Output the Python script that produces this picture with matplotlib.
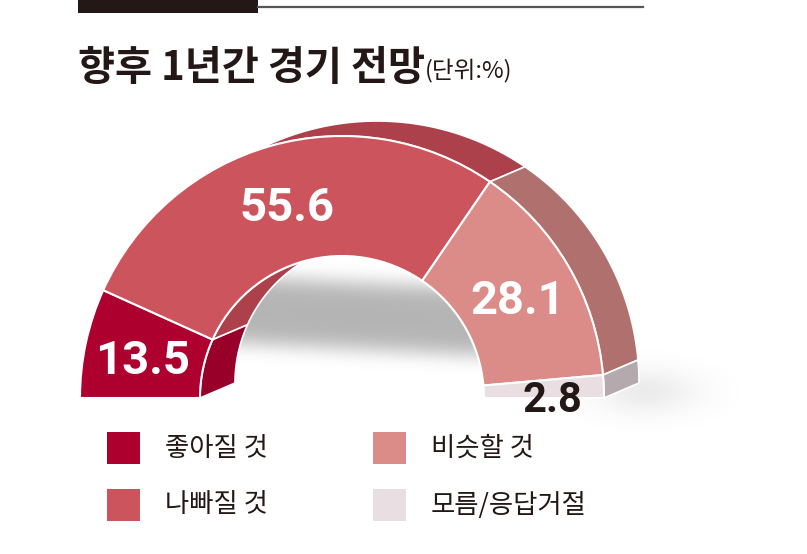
import numpy as np
import matplotlib
matplotlib.use("Agg")
import matplotlib.pyplot as plt
from matplotlib.patches import Wedge, Polygon, Rectangle

plt.rcParams['font.family'] = ['Noto Sans CJK KR', 'DejaVu Sans']

# data
categories = ['좋아질 것', '나빠질 것', '비슷할 것', '모름/응답거절']
values = [13.5, 55.6, 28.1, 2.8]
front_colors = ['#AE002F', '#CC545C', '#DB8B88', '#E9DEE1']
side_colors = ['#98002A', '#AD414B', '#B0706E', '#B4A9AD']
label_colors = ['white', 'white', 'white', '#231815']

W, H = 807, 554
fig = plt.figure(figsize=(W / 100, H / 100), dpi=100)
ax = fig.add_axes([0, 0, 1, 1])
ax.set_xlim(0, W)
ax.set_ylim(0, H)
ax.axis('off')

# top rule
ax.add_patch(Rectangle((78, H - 13), 180, 13, color='#231815', lw=0))
ax.plot([258, 643], [H - 7, H - 7], color='#555555', lw=1.6)

# title
ax.text(78, H - 80, '향후 1년간 경기 전망', fontsize=29, weight='bold',
        color='#231815', va='baseline', ha='left')
ax.text(425, H - 78, '(단위:%)', fontsize=17, weight='light',
        color='#231815', va='baseline', ha='left')

# geometry of the half donut
cx, cy = 342, H - 398
r_out, r_in = 262, 142
dx, dy = 35, 15

# grey band of shadow inside the hole
gx, gy = np.meshgrid(np.arange(W), np.arange(H))
img_y = H - gy
centre = 316 + 0.05 * (gx - 350)
alpha = 0.53 * np.exp(-((img_y - centre) / 36.0) ** 4)
shade = np.zeros((H, W, 4))
shade[..., :3] = 0.45
shade[..., 3] = alpha
hole = Wedge((cx, cy), r_in + 2, 0, 180, transform=ax.transData)
im = ax.imshow(shade, extent=[0, W, 0, H], origin='lower', zorder=0,
               interpolation='bilinear')
im.set_clip_path(hole)

# faint shadow to the right of the ring foot
d = ((gx - 645) / 50.0) ** 2 + ((img_y - 392) / 22.0) ** 2
halo = np.zeros((H, W, 4))
halo[..., :3] = 0.5
halo[..., 3] = 0.15 * np.exp(-d)
ax.imshow(halo, extent=[0, W, 0, H], origin='lower', zorder=0,
          interpolation='bilinear')

total = sum(values)
bounds = [0]
for v in values:
    bounds.append(bounds[-1] + v)
# first category starts at the left (180 deg) and runs clockwise
angles = [180 - 180 * b / total for b in bounds]


def arc(r, a1, a2, ox=0, oy=0, n=60):
    t = np.radians(np.linspace(a1, a2, n))
    return np.column_stack([cx + ox + r * np.cos(t), cy + oy + r * np.sin(t)])


# outer side faces
for i in range(len(values)):
    a1, a2 = angles[i], angles[i + 1]
    pts = np.vstack([arc(r_out, a1, a2), arc(r_out, a2, a1, dx, dy)])
    ax.add_patch(Polygon(pts, closed=True, facecolor=side_colors[i],
                         edgecolor='white', lw=1.2, zorder=2))
# inner side faces
for i in range(len(values)):
    a1, a2 = angles[i], angles[i + 1]
    pts = np.vstack([arc(r_in, a1, a2), arc(r_in, a2, a1, dx, dy)])
    ax.add_patch(Polygon(pts, closed=True, facecolor=side_colors[i],
                         edgecolor='white', lw=1.2, zorder=2))

# front faces
for i in range(len(values)):
    a1, a2 = angles[i], angles[i + 1]
    ax.add_patch(Wedge((cx, cy), r_out, a2, a1, width=r_out - r_in,
                       facecolor=front_colors[i], edgecolor='white', lw=1.5, zorder=3))

# value labels
for i, v in enumerate(values):
    mid = np.radians((angles[i] + angles[i + 1]) / 2)
    rr = 204
    if v < 5:
        x, y = 552, H - 401
        fs = 30
    else:
        x, y = cx + rr * np.cos(mid), cy + rr * np.sin(mid) - 6
        fs = 34
    ax.text(x, y, f'{v:.1f}', fontsize=fs, family=['Roboto', 'DejaVu Sans'],
            weight='bold', color=label_colors[i],
            ha='center', va='center', zorder=5)

# legend
leg_x = [107, 373]
leg_y = [H - 448, H - 505]
for i, name in enumerate(categories):
    col, row = i // 2, i % 2
    x, y = leg_x[col], leg_y[row]
    ax.add_patch(Rectangle((x, y - 16), 33, 32, facecolor=front_colors[i], lw=0))
    ax.text(x + 58, y, name, fontsize=19, weight='light', color='#231815',
            ha='left', va='center')

fig.savefig('out.png', dpi=100)
